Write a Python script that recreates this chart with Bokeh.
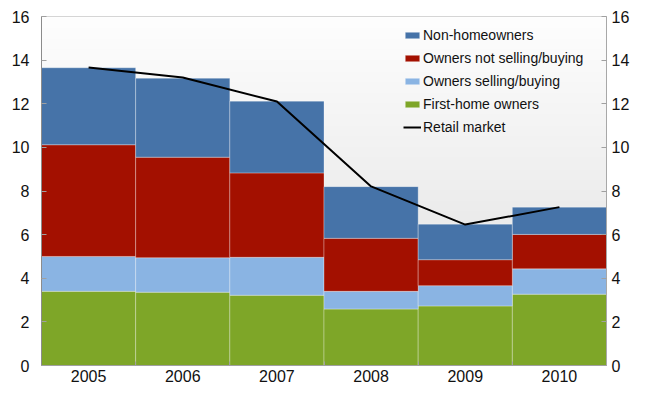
import numpy as np
from bokeh.plotting import figure
from bokeh.models import Range1d, LinearAxis, FixedTicker, Legend, LegendItem, ColumnDataSource
from bokeh.embed import file_html
from bokeh.resources import INLINE

years = ["2005", "2006", "2007", "2008", "2009", "2010"]
first_home = [3.40, 3.36, 3.22, 2.59, 2.73, 3.27]
owners_selling = [1.60, 1.58, 1.74, 0.81, 0.93, 1.16]
owners_not_selling = [5.12, 4.61, 3.87, 2.43, 1.19, 1.58]
non_homeowners = [3.53, 3.62, 3.29, 2.37, 1.63, 1.25]
retail = [13.66, 13.20, 12.10, 8.21, 6.46, 7.26]
y_ticks = [0, 2, 4, 6, 8, 10, 12, 14, 16]

labels = ["First-home owners", "Owners selling/buying", "Owners not selling/buying", "Non-homeowners"]
colors = ["#7ea628", "#8ab4e3", "#a31000", "#4673a8"]
FONT = "Liberation Sans"

x = np.arange(len(years))
src = ColumnDataSource(dict(x=x, fh=first_home, os=owners_selling, ons=owners_not_selling,
                            nh=non_homeowners, retail=retail))

p = figure(width=632, height=385, output_backend="svg", toolbar_location=None,
           x_range=Range1d(-0.5, len(years) - 0.5), y_range=Range1d(0, 16),
           min_border_left=41, min_border_right=18, min_border_top=16, min_border_bottom=20)
p.xgrid.visible = False
p.ygrid.visible = False
p.outline_line_color = "#c8c8c8"
p.background_fill_color = "white"
p.border_fill_color = "white"

# gradient background of plot area
H = 200
t = np.linspace(0, 1, H)
g = (222 + (254 - 222) * t).astype(np.uint8)
img = np.empty((H, 1), dtype=np.uint32)
view = img.view(dtype=np.uint8).reshape((H, 1, 4))
view[:, 0, 0] = g
view[:, 0, 1] = g
view[:, 0, 2] = g
view[:, 0, 3] = 255
p.image_rgba(image=[img], x=-0.5, y=0, dw=len(years), dh=16)

rs = p.vbar_stack(["fh", "os", "ons", "nh"], x="x", width=1.0, color=colors, source=src,
                  line_color="white", line_alpha=0.3, line_width=1)
lr = p.line("x", "retail", source=src, line_color="black", line_width=2)

# axes
ticker = FixedTicker(ticks=list(x), minor_ticks=list(np.arange(len(years) + 1) - 0.5))
xa = p.xaxis[0]
xa.ticker = ticker
xa.major_label_overrides = {int(i): yv for i, yv in zip(x, years)}
xa.major_tick_in = 0
xa.major_tick_out = 0
xa.minor_tick_in = 4
xa.minor_tick_out = 0
xa.minor_tick_line_color = "#a0a0a0"
xa.axis_line_color = "#a0a0a0"
xa.major_label_standoff = 4
xa.major_label_text_font = FONT
xa.major_label_text_font_size = "16px"
xa.major_label_text_color = "#111111"

ya = p.yaxis[0]
ya.ticker = FixedTicker(ticks=y_ticks)
ya.axis_line_color = "#8c8c8c"
ya.major_tick_in = 5
ya.major_tick_out = 0
ya.minor_tick_line_color = None
ya.major_tick_line_color = "#a0a0a0"
ya.major_label_standoff = 12
ya.major_label_text_font = FONT
ya.major_label_text_font_size = "16px"
ya.major_label_text_color = "#111111"

ra = LinearAxis(ticker=FixedTicker(ticks=y_ticks))
ra.axis_line_color = "#a8a8a8"
ra.major_tick_in = 5
ra.major_tick_out = 0
ra.minor_tick_line_color = None
ra.major_tick_line_color = "#a0a0a0"
ra.major_label_standoff = 5
ra.major_label_text_font = FONT
ra.major_label_text_font_size = "16px"
ra.major_label_text_color = "#111111"
p.add_layout(ra, "right")

items = [LegendItem(label=labels[3], renderers=[rs[3]]),
         LegendItem(label=labels[2], renderers=[rs[2]]),
         LegendItem(label=labels[1], renderers=[rs[1]]),
         LegendItem(label=labels[0], renderers=[rs[0]]),
         LegendItem(label="Retail market", renderers=[lr])]
legend = Legend(items=items, location=(362, 230), padding=0, margin=0,
                border_line_color=None, background_fill_alpha=0,
                glyph_width=18, glyph_height=8, label_height=16, spacing=7,
                label_standoff=2, label_text_font=FONT, label_text_font_size="14px",
                label_text_color="#111111")
p.add_layout(legend)

open("out.html", "w").write(file_html(p, INLINE))
